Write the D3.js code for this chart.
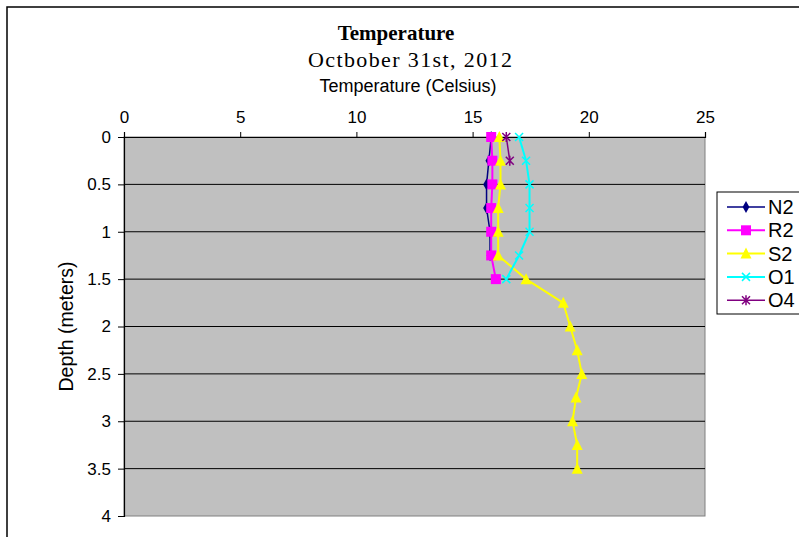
<!DOCTYPE html>
<html>
<head>
<meta charset="utf-8">
<script src="https://cdn.jsdelivr.net/npm/d3@7"></script>
<style>
  body { margin: 0; background: #fff; }
  svg { display: block; }
</style>
</head>
<body>
<svg id="chart" width="799" height="537"></svg>
<script>
const depths = [0, 0.25, 0.5, 0.75, 1, 1.25, 1.5, 1.75, 2, 2.25, 2.5, 2.75, 3, 3.25, 3.5];
const seriesNames = ['N2', 'R2', 'S2', 'O1', 'O4'];
const n2Temps = [15.8, 15.7, 15.6, 15.6, 15.75, 15.75];
const r2Temps = [15.8, 15.85, 15.85, 15.8, 15.8, 15.8, 16.0];
const s2Temps = [16.15, 16.2, 16.2, 16.1, 16.1, 16.1, 17.3, 18.9, 19.2, 19.5, 19.7, 19.45, 19.3, 19.5, 19.5];
const o1Temps = [17.0, 17.3, 17.45, 17.45, 17.45, 17.0, 16.45];
const o4Temps = [16.45, 16.6];
const xTicks = [0, 5, 10, 15, 20, 25];
const yTicks = [0, 0.5, 1, 1.5, 2, 2.5, 3, 3.5, 4];

const colors = {
    N2: '#000080',
    R2: '#ff00ff',
    S2: '#ffff00',
    O1: '#00ffff',
    O4: '#800080'
};

const plot = { left: 124, right: 705, top: 137, bottom: 516 };
const sans = 'Liberation Sans, Arial, sans-serif';
const serif = 'Liberation Serif, Times New Roman, serif';

const svg = d3.select('#chart');

// outer chart border
svg.append('rect')
    .attr('x', 7).attr('y', 7)
    .attr('width', 820).attr('height', 560)
    .attr('fill', 'none')
    .attr('stroke', '#000')
    .attr('stroke-width', 1.5);

const x = d3.scaleLinear().domain([0, 25]).range([plot.left, plot.right]);
const y = d3.scaleLinear().domain([0, 4]).range([plot.top, plot.bottom]);

// plot background
svg.append('rect')
    .attr('x', plot.left).attr('y', plot.top)
    .attr('width', plot.right - plot.left)
    .attr('height', plot.bottom - plot.top)
    .attr('fill', '#c0c0c0')
    .attr('stroke', '#808080')
    .attr('stroke-width', 1);

// gridlines
svg.append('g')
    .selectAll('line')
    .data(yTicks.filter(d => d > 0 && d < 4))
    .join('line')
    .attr('x1', plot.left).attr('x2', plot.right)
    .attr('y1', d => y(d)).attr('y2', d => y(d))
    .attr('stroke', '#000')
    .attr('stroke-width', 1);

// x axis on top
const xAxis = svg.append('g')
    .attr('transform', `translate(0,${plot.top})`)
    .call(d3.axisTop(x).tickValues(xTicks).tickSize(5).tickPadding(9).tickFormat(d3.format('d')));
xAxis.selectAll('text')
    .attr('font-family', sans)
    .attr('font-size', 17)
    .attr('fill', '#000');

// y axis
const yAxis = svg.append('g')
    .attr('transform', `translate(${plot.left},0)`)
    .call(d3.axisLeft(y).tickValues(yTicks).tickSize(6).tickPadding(7).tickFormat(d => d));
yAxis.selectAll('text')
    .attr('font-family', sans)
    .attr('font-size', 17)
    .attr('fill', '#000');

for (const ax of [xAxis, yAxis]) {
    ax.select('.domain').attr('stroke', '#000').attr('stroke-width', 1.2);
    ax.selectAll('.tick line').attr('stroke', '#000');
}

// titles
svg.append('text')
    .attr('x', 396).attr('y', 40)
    .attr('text-anchor', 'middle')
    .attr('font-family', serif)
    .attr('font-weight', 'bold')
    .attr('font-size', 21)
    .text('Temperature');
svg.append('text')
    .attr('x', 410).attr('y', 67)
    .attr('text-anchor', 'middle')
    .attr('font-family', serif)
    .attr('font-size', 22)
    .attr('textLength', 204)
    .attr('lengthAdjust', 'spacing')
    .text('Octbober 31st, 2012');
svg.append('text')
    .attr('x', 408).attr('y', 92)
    .attr('text-anchor', 'middle')
    .attr('font-family', sans)
    .attr('font-size', 18)
    .text('Temperature (Celsius)');
svg.append('text')
    .attr('transform', `translate(73,${(plot.top + plot.bottom) / 2}) rotate(-90)`)
    .attr('text-anchor', 'middle')
    .attr('font-family', sans)
    .attr('font-size', 19.5)
    .text('Depth (meters)');

// markers
function drawMarker(g, name, cx, cy) {
    const c = colors[name];
    if (name === 'N2') {
        g.append('path').attr('d', d3.symbol(d3.symbolDiamond, 40)())
            .attr('transform', `translate(${cx},${cy})`).attr('fill', c);
    } else if (name === 'R2') {
        g.append('rect').attr('x', cx - 5).attr('y', cy - 5)
            .attr('width', 10).attr('height', 10).attr('fill', c);
    } else if (name === 'S2') {
        g.append('path').attr('d', `M${cx},${cy - 6}L${cx + 5.5},${cy + 5}L${cx - 5.5},${cy + 5}Z`)
            .attr('fill', c);
    } else if (name === 'O1') {
        g.append('path').attr('d', `M${cx - 4},${cy - 4}L${cx + 4},${cy + 4}M${cx - 4},${cy + 4}L${cx + 4},${cy - 4}`)
            .attr('stroke', c).attr('stroke-width', 1.5).attr('fill', 'none');
    } else {
        g.append('path').attr('d', `M${cx - 4},${cy - 4}L${cx + 4},${cy + 4}M${cx - 4},${cy + 4}L${cx + 4},${cy - 4}M${cx},${cy - 5}L${cx},${cy + 5}`)
            .attr('stroke', c).attr('stroke-width', 1.5).attr('fill', 'none');
    }
}

const seriesTemps = { N2: n2Temps, R2: r2Temps, S2: s2Temps, O1: o1Temps, O4: o4Temps };
const line = d3.line().x(d => x(d.t)).y(d => y(d.depth));

for (const name of seriesNames) {
    const pts = seriesTemps[name].map((t, i) => ({ t, depth: depths[i] }));
    const g = svg.append('g').attr('class', 'series');
    g.append('path')
        .attr('d', line(pts))
        .attr('fill', 'none')
        .attr('stroke', colors[name])
        .attr('stroke-width', name === 'N2' || name === 'O4' ? 1.5 : 2);
    for (const p of pts) drawMarker(g, name, x(p.t), y(p.depth));
}

// legend
const legend = svg.append('g');
legend.append('rect')
    .attr('x', 717).attr('y', 192)
    .attr('width', 100).attr('height', 122)
    .attr('fill', '#fff')
    .attr('stroke', '#000')
    .attr('stroke-width', 1);
seriesNames.forEach((name, i) => {
    const ly = 207 + i * 23.3;
    legend.append('line')
        .attr('x1', 727).attr('x2', 765)
        .attr('y1', ly).attr('y2', ly)
        .attr('stroke', colors[name])
        .attr('stroke-width', name === 'N2' || name === 'O4' ? 1.5 : 2);
    drawMarker(legend, name, 746, ly);
    legend.append('text')
        .attr('x', 768).attr('y', ly + 7)
        .attr('font-family', sans)
        .attr('font-size', 20)
        .text(name);
});
</script>
</body>
</html>
